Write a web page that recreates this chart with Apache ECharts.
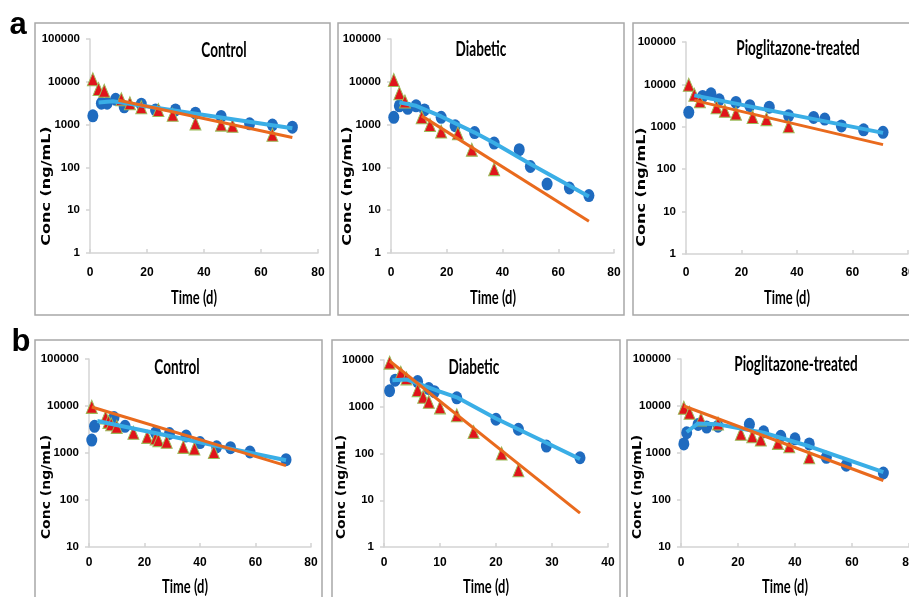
<!DOCTYPE html>
<html><head><meta charset="utf-8">
<script src="https://cdn.jsdelivr.net/npm/echarts@6/dist/echarts.min.js"></script>
<style>html,body{margin:0;padding:0;background:#fff}#c{width:909px;height:597px}</style>
</head><body><div id="c"></div>
<script>
// ---------------- data (time in days, concentration in ng/mL) ----------------
// Panel a - Control
const aControlCircles   = [[1,1600],[4,3150],[6,3150],[9,3900],[12,2600],[18,3000],[23,2200],[30,2200],[37,1850],[46,1550],[56,1040],[64,980],[71,870]];
const aControlTriangles = [[1,11500],[3,6800],[5,6200],[11,3900],[14,3150],[18,2550],[24,2200],[29,1700],[37,1070],[46,1000],[50,940],[64,580]];
const aControlBlueFit   = [[3,3300],[8,3500],[71,820]];
const aControlOrangeFit = [[10,3700],[71,500]];
// Panel a - Diabetic
const aDiabeticCircles   = [[1,1480],[3,2750],[6,2400],[9,2750],[12,2200],[18,1480],[23,940],[30,650],[37,370],[46,260],[50,105],[56,41],[64,33],[71,22]];
const aDiabeticTriangles = [[1,11000],[3,5400],[5,3450],[11,1480],[14,980],[18,690],[24,630],[29,260],[37,91]];
const aDiabeticBlueFit   = [[3,3300],[9,2750],[18,1550],[30,650],[37,370],[50,120],[71,21]];
const aDiabeticOrangeFit = [[11,1600],[71,5.5]];
// Panel a - Pioglitazone-treated
const aPioCircles   = [[1,2200],[6,5200],[9,6000],[12,4350],[18,3750],[23,3150],[30,2900],[37,1820],[46,1660],[50,1520],[56,1050],[64,850],[71,740]];
const aPioTriangles = [[1,9800],[3,5700],[5,4000],[11,2900],[14,2400],[18,2050],[24,1700],[29,1520],[37,1030]];
const aPioBlueFit   = [[3,5500],[71,720]];
const aPioOrangeFit = [[3,4200],[71,380]];
// Panel b - Control
const bControlCircles   = [[1,1880],[2,3700],[9,5700],[13,3700],[24,2700],[29,2600],[35,2300],[40,1670],[46,1350],[51,1300],[58,1050],[71,720]];
const bControlTriangles = [[1,9600],[6,5700],[7,4600],[8,4100],[10,3600],[16,2700],[21,2200],[24,2050],[25,1880],[28,1740],[34,1350],[38,1250],[45,1050]];
const bControlBlueFit   = [[3,4800],[71,700]];
const bControlOrangeFit = [[1,9500],[71,540]];
// Panel b - Diabetic
const bDiabeticCircles   = [[1,2200],[2,3700],[6,3450],[8,2450],[9,2100],[13,1550],[20,540],[24,330],[29,144],[35,81]];
const bDiabeticTriangles = [[1,8800],[3,5350],[4,4050],[6,2270],[7,1640],[8,1280],[10,970],[13,660],[16,290],[21,100],[24,44]];
const bDiabeticBlueFit   = [[1.5,3700],[4,3850],[6,3160],[10,2100],[13,1590],[20,560],[29,170],[35,76]];
const bDiabeticOrangeFit = [[1,9500],[35,5.3]];
// Panel b - Pioglitazone-treated
const bPioCircles   = [[1,1560],[2,2700],[6,4050],[9,3560],[13,3730],[24,4070],[29,2820],[35,2270],[40,2000],[45,1560],[51,810],[58,550],[71,375]];
const bPioTriangles = [[1,9200],[3,7200],[7,5200],[13,4250],[21,2560],[25,2270],[28,1930],[34,1640],[38,1390],[45,810]];
const bPioBlueFit   = [[2,2800],[6,4250],[13,4070],[29,2700],[45,1390],[71,390]];
const bPioOrangeFit = [[1,10000],[71,260]];

const panelTitles = ['Control','Diabetic','Pioglitazone-treated','Control','Diabetic','Pioglitazone-treated'];
const xAxisTitle = 'Time (d)';
const yAxisTitle = 'Conc (ng/mL)';
const rowLetters = ['a','b'];

// ---------------- layout ----------------
const panels = [
  {title:panelTitles[0], c:aControlCircles, t:aControlTriangles, bf:aControlBlueFit, of:aControlOrangeFit, xMax:80, xInt:20, yMin:1, yMax:100000,
   grid:{left:90,top:39,width:228,height:214}, box:[35,23,295,292], tp:[224,51], yn:[47,186], ynSize:16, ynScale:0.75, xn:[194,298], xm:14},
  {title:panelTitles[1], c:aDiabeticCircles, t:aDiabeticTriangles, bf:aDiabeticBlueFit, of:aDiabeticOrangeFit, xMax:80, xInt:20, yMin:1, yMax:100000,
   grid:{left:391,top:39,width:223,height:214}, box:[338,23,286,292], tp:[481,50], yn:[348,186], ynSize:16, ynScale:0.75, xn:[493,298], xm:14},
  {title:panelTitles[2], c:aPioCircles, t:aPioTriangles, bf:aPioBlueFit, of:aPioOrangeFit, xMax:80, xInt:20, yMin:1, yMax:100000,
   grid:{left:686,top:42,width:222,height:212}, box:[633,23,290,292], tp:[798,49], yn:[642,187], ynSize:16, ynScale:0.75, xn:[787,298], xm:13},
  {title:panelTitles[3], c:bControlCircles, t:bControlTriangles, bf:bControlBlueFit, of:bControlOrangeFit, xMax:80, xInt:20, yMin:10, yMax:100000,
   grid:{left:89,top:359,width:222,height:188}, box:[35,340,287,270], tp:[177,368], yn:[47,487], ynSize:14, ynScale:0.85, xn:[185,587], xm:10},
  {title:panelTitles[4], c:bDiabeticCircles, t:bDiabeticTriangles, bf:bDiabeticBlueFit, of:bDiabeticOrangeFit, xMax:40, xInt:10, yMin:1, yMax:10000,
   grid:{left:384,top:360,width:224,height:187}, box:[332,340,288,270], tp:[474,368], yn:[342,487], ynSize:14, ynScale:0.85, xn:[486,587], xm:10},
  {title:panelTitles[5], c:bPioCircles, t:bPioTriangles, bf:bPioBlueFit, of:bPioOrangeFit, xMax:80, xInt:20, yMin:10, yMax:100000,
   grid:{left:681,top:359,width:228,height:188}, box:[627,340,300,270], tp:[796,365], yn:[638,487], ynSize:14, ynScale:0.85, xn:[785,587], xm:10}
];

const AXIS_COLOR = '#d4d4d4';
const TICK_FONT = '"Liberation Sans",Arial,sans-serif';
const TITLE_FONT = '"Lato","Open Sans",sans-serif';

const grids = [], xAxes = [], yAxes = [], series = [], graphics = [];
panels.forEach((p, i) => {
  grids.push(Object.assign({containLabel:false, outerBoundsMode:'none'}, p.grid));
  xAxes.push({type:'value', gridIndex:i, min:0, max:p.xMax, interval:p.xInt,
    axisLine:{lineStyle:{color:AXIS_COLOR, width:1.5}},
    axisTick:{inside:true, length:4, lineStyle:{color:AXIS_COLOR, width:1.5}},
    splitLine:{show:false},
    axisLabel:{color:'#000', fontFamily:TICK_FONT, fontWeight:'bold', fontSize:12, margin:p.xm}});
  yAxes.push({type:'log', logBase:10, gridIndex:i, min:p.yMin, max:p.yMax,
    axisLine:{show:true, lineStyle:{color:AXIS_COLOR, width:1.5}},
    axisTick:{show:true, length:4, lineStyle:{color:AXIS_COLOR, width:1.5}},
    splitLine:{show:false}, minorTick:{show:false},
    axisLabel:{color:'#000', fontFamily:TICK_FONT, fontWeight:'bold', fontSize:11.5, margin:10,
      formatter: v => String(Math.round(v))}});
  series.push({type:'line', xAxisIndex:i, yAxisIndex:i, data:p.bf, symbol:'none', silent:true,
    lineStyle:{color:'#3aaee6', width:4}});
  series.push({type:'line', xAxisIndex:i, yAxisIndex:i, data:p.of, symbol:'none', silent:true,
    lineStyle:{color:'#e96a1d', width:3}});
  series.push({type:'scatter', xAxisIndex:i, yAxisIndex:i, data:p.c, symbol:'circle', symbolSize:[11,13],
    itemStyle:{color:'#1f6bbf', opacity:1}});
  series.push({type:'scatter', xAxisIndex:i, yAxisIndex:i, data:p.t, symbol:'triangle', symbolSize:[11,13],
    itemStyle:{color:'#e0141b', borderColor:'#9cbb59', borderWidth:1, opacity:1}});

  graphics.push({type:'rect', shape:{x:p.box[0], y:p.box[1], width:p.box[2], height:p.box[3]},
    style:{fill:'none', stroke:'#a8a8a8', lineWidth:1.5}, z:0, silent:true});
  graphics.push({type:'text', x:p.tp[0], y:p.tp[1], scaleX:0.68, z:10,
    style:{text:p.title, font:'bold 20px ' + TITLE_FONT, fill:'#000', align:'center', verticalAlign:'middle', textAlign:'center', textVerticalAlign:'middle'}});
  graphics.push({type:'text', x:p.xn[0], y:p.xn[1], scaleX:0.68, z:10,
    style:{text:xAxisTitle, font:'bold 19px ' + TITLE_FONT, fill:'#000', align:'center', verticalAlign:'middle', textAlign:'center', textVerticalAlign:'middle'}});
  graphics.push({type:'text', x:p.yn[0], y:p.yn[1], rotation:Math.PI/2, scaleY:p.ynScale, z:10,
    style:{text:yAxisTitle, font:'bold ' + p.ynSize + 'px "DejaVu Sans",sans-serif', fill:'#000', align:'center', verticalAlign:'middle', textAlign:'center', textVerticalAlign:'middle'}});
});
graphics.push({type:'text', x:18, y:25, z:10,
  style:{text:rowLetters[0], font:'bold 31px "Liberation Sans",Arial,sans-serif', fill:'#000', align:'center', verticalAlign:'middle', textAlign:'center', textVerticalAlign:'middle'}});
graphics.push({type:'text', x:21, y:342, z:10,
  style:{text:rowLetters[1], font:'bold 31px "Liberation Sans",Arial,sans-serif', fill:'#000', align:'center', verticalAlign:'middle', textAlign:'center', textVerticalAlign:'middle'}});

const chart = echarts.init(document.getElementById('c'), null, {renderer:'canvas'});
chart.setOption({animation:false, backgroundColor:'#fff', grid:grids, xAxis:xAxes, yAxis:yAxes, series:series, graphic:graphics});
</script></body></html>
